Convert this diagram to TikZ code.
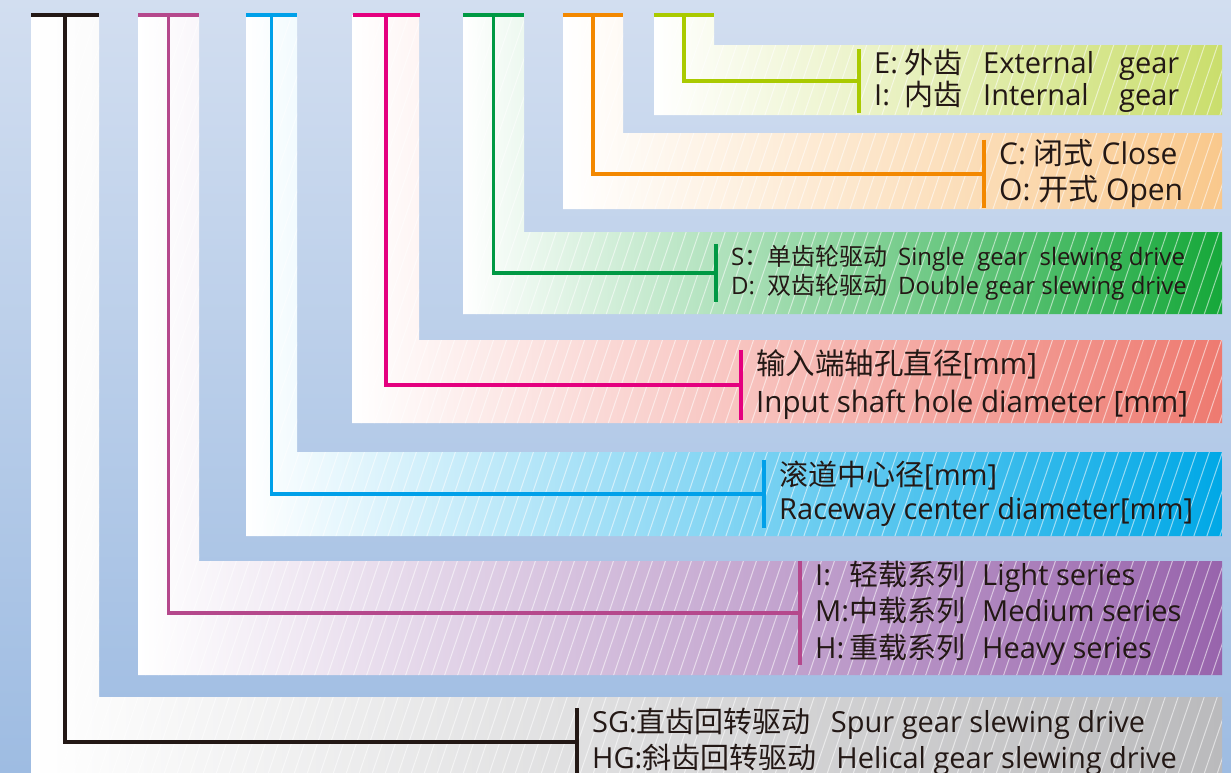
\documentclass[tikz,border=0pt]{standalone}
\usepackage{fontspec}
\setmainfont{Open Sans}
\newfontfamily\zhfont{Noto Sans CJK SC}
\newcommand{\zh}[1]{{\zhfont #1}}

\definecolor{ink}{RGB}{35,24,21}
\definecolor{bgtop}{RGB}{210,222,240}
\definecolor{bgmid}{RGB}{196,212,236}
\definecolor{bgbot}{RGB}{158,188,226}
\definecolor{lineG}{RGB}{35,24,21}
\definecolor{lineP}{RGB}{181,72,140}
\definecolor{lineC}{RGB}{0,160,233}
\definecolor{lineM}{RGB}{228,0,127}
\definecolor{lineS}{RGB}{0,153,68}
\definecolor{lineO}{RGB}{243,136,0}
\definecolor{lineE}{RGB}{170,202,0}
\definecolor{bandG}{RGB}{186,186,188}
\definecolor{bandP}{RGB}{152,100,172}
\definecolor{bandC}{RGB}{0,168,230}
\definecolor{bandM}{RGB}{238,122,112}
\definecolor{bandS}{RGB}{22,168,58}
\definecolor{bandO}{RGB}{249,200,140}
\definecolor{bandE}{RGB}{202,222,108}

\begin{document}
\begin{tikzpicture}
	[
		x=1pt, y=-1pt,
		Band/.style={left color=white, right color=#1, path picture={
			\foreach \h in {-280,-267,...,1230}
				\draw[white, opacity=.55, line width=1pt] (\h,780) -- ++(265,-780);}},
		Top/.style={rectangle, inner sep=0pt, minimum height=3.5pt, fill=#1},
		Link/.style={draw=#1, line width=3.2pt}
	]
	\tikzstyle{Label} = [anchor=west, inner xsep=15pt, inner ysep=0pt, align=left, text=ink]
	\fill[top color=bgtop, middle color=bgmid, bottom color=bgbot] (0,0) rectangle (1231,772);
	\useasboundingbox (0,0) rectangle (1231,772);
	% bands
	\path[Band=bandG] (31,15) -- (99,15) -- (99,697) -- (1222,697) -- (1222,780) -- (31,780) -- cycle;
	\path[Band=bandP] (138,15) -- (199,15) -- (199,561) -- (1222,561) -- (1222,675) -- (138,675) -- cycle;
	\path[Band=bandC] (246,15) -- (297,15) -- (297,452) -- (1222,452) -- (1222,536) -- (246,536) -- cycle;
	\path[Band=bandM] (352,15) -- (419,15) -- (419,340) -- (1222,340) -- (1222,423) -- (352,423) -- cycle;
	\path[Band=bandS] (463,15) -- (524,15) -- (524,232) -- (1222,232) -- (1222,314) -- (463,314) -- cycle;
	\path[Band=bandO] (563,15) -- (623,15) -- (623,133) -- (1222,133) -- (1222,209) -- (563,209) -- cycle;
	\path[Band=bandE] (654,15) -- (714,15) -- (714,45) -- (1222,45) -- (1222,115) -- (654,115) -- cycle;
	% code bars on top
	\node[Top=lineG, minimum width=68pt] (topG) at (65,15) {};
	\node[Top=lineP, minimum width=61pt] (topP) at (168.5,15) {};
	\node[Top=lineC, minimum width=51pt] (topC) at (271.5,15) {};
	\node[Top=lineM, minimum width=67pt] (topM) at (386,15) {};
	\node[Top=lineS, minimum width=61pt] (topS) at (493.5,15) {};
	\node[Top=lineO, minimum width=60pt] (topO) at (593,15) {};
	\node[Top=lineE, minimum width=60pt] (topE) at (684,15) {};
	% labels
	\node[Label, minimum height=60pt, font=\fontsize{29}{32}\selectfont] (lblE) at (859,81)
		{\makebox[30pt][l]{E:}\makebox[79pt][l]{\zh{外齿}}\makebox[136pt][l]{External}gear\\
		 \makebox[30pt][l]{I:}\makebox[79pt][l]{\zh{内齿}}\makebox[136pt][l]{Internal}gear};
	\node[Label, minimum height=60pt, font=\fontsize{30}{36}\selectfont] (lblO) at (984,174)
		{C: \zh{闭式} Close\\O: \zh{开式} Open};
	\node[Label, minimum height=58pt, font=\fontsize{24}{29}\selectfont] (lblS) at (716,273)
		{\makebox[36pt][l]{S\zh{：}}\makebox[131pt][l]{\zh{单齿轮驱动}}Single\ \ gear\ \ slewing drive\\
		 \makebox[36pt][l]{D:}\makebox[131pt][l]{\zh{双齿轮驱动}}Double gear slewing drive};
	\node[Label, minimum height=67pt, font=\fontsize{29.5}{38}\selectfont] (lblM) at (741,385)
		{\zh{输入端轴孔直径}[mm]\\Input shaft hole diameter [mm]};
	\node[Label, minimum height=67pt, font=\fontsize{29}{34}\selectfont] (lblC) at (764,494)
		{\zh{滚道中心径}[mm]\\Raceway center diameter[mm]};
	\node[Label, minimum height=86pt, font=\fontsize{29}{36.5}\selectfont] (lblP) at (800,613)
		{\makebox[34pt][l]{I:}\makebox[133pt][l]{\zh{轻载系列}}Light series\\
		 \makebox[34pt][l]{M:}\makebox[133pt][l]{\zh{中载系列}}Medium series\\
		 \makebox[34pt][l]{H:}\makebox[133pt][l]{\zh{重载系列}}Heavy series};
	\node[Label, minimum height=60pt, font=\fontsize{29}{36}\selectfont] (lblG) at (577,742)
		{SG:\zh{直齿回转驱动}\hspace{20pt}Spur gear slewing drive\\
		 HG:\zh{斜齿回转驱动}\hspace{20pt}Helical gear slewing drive};
	% connectors
	\draw[Link=lineG] (topG.center) |- (lblG.west);
	\draw[Link=lineP] (topP.center) |- (lblP.west);
	\draw[Link=lineC] (topC.center) |- (lblC.west);
	\draw[Link=lineM] (topM.center) |- (lblM.west);
	\draw[Link=lineS] (topS.center) |- (lblS.west);
	\draw[Link=lineO] (topO.center) |- (lblO.west);
	\draw[Link=lineE] (topE.center) |- (lblE.west);
	\draw[Link=lineG] (lblG.north west) -- (lblG.south west);
	\draw[Link=lineP] (lblP.north west) -- (lblP.south west);
	\draw[Link=lineC] (lblC.north west) -- (lblC.south west);
	\draw[Link=lineM] (lblM.north west) -- (lblM.south west);
	\draw[Link=lineS] (lblS.north west) -- (lblS.south west);
	\draw[Link=lineO] (lblO.north west) -- (lblO.south west);
	\draw[Link=lineE] (lblE.north west) -- (lblE.south west);
\end{tikzpicture}
\end{document}
